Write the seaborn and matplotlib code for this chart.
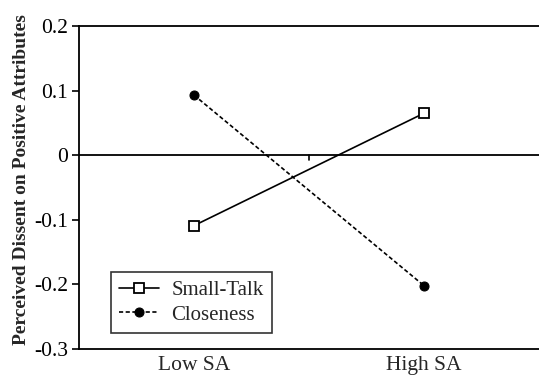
import matplotlib
matplotlib.use("Agg")
import matplotlib.pyplot as plt
import seaborn as sns
import pandas as pd

# Mean perceived dissent by social anxiety level
conditions = ["Low SA", "High SA"]
small_talk = [-0.109, 0.065]
closeness = [0.093, -0.202]
y_ticks = [0.2, 0.1, 0.0, -0.1, -0.2, -0.3]
y_tick_labels = ["0.2", "0.1", "0", "-0.1", "-0.2", "-0.3"]

sns.set_theme(style="white")
plt.rcParams["font.family"] = ["Liberation Serif", "DejaVu Serif"]

fig = plt.figure(figsize=(5.39, 3.77), dpi=100)
ax = fig.add_axes([0.1466, 0.0743, 0.8534, 0.8567])

x = list(range(len(conditions)))
df_st = pd.DataFrame({"x": x, "y": small_talk})
df_cl = pd.DataFrame({"x": x, "y": closeness})

sns.lineplot(data=df_st, x="x", y="y", ax=ax, color="black", linewidth=1.2,
             marker="s", markersize=6.5, markerfacecolor="white",
             markeredgecolor="black", markeredgewidth=1.3, label="Small-Talk")
sns.lineplot(data=df_cl, x="x", y="y", ax=ax, color="black", linewidth=1.2,
             linestyle=(0, (2.5, 1.5)), marker="o", markersize=6.5,
             markerfacecolor="black", markeredgecolor="black",
             label="Closeness")

# Category axis drawn through zero
ax.axhline(0, color="black", linewidth=1.3, zorder=1)
ax.plot([0.5, 0.5], [0, -0.007], color="black", linewidth=1.2,
        clip_on=False)

ax.set_xlim(-0.5, 1.5)
ax.set_ylim(-0.3, 0.2)
ax.set_xticks(x)
ax.set_xticklabels(conditions, fontsize=15.5)
ax.set_yticks(y_ticks)
ax.set_yticklabels(y_tick_labels, fontsize=15.5)
ax.tick_params(axis="x", length=0, pad=5)
ax.tick_params(axis="y", length=5, width=1.2, direction="out", pad=3,
               left=True, colors="black")
ax.set_xlabel("")
ax.set_ylabel("Perceived Dissent on Positive Attributes", fontsize=14,
              fontweight="bold")
ax.yaxis.set_label_coords(-0.107, 0.525)

for side in ["left", "top", "bottom"]:
    ax.spines[side].set_visible(True)
    ax.spines[side].set_color("black")
    ax.spines[side].set_linewidth(1.3)
ax.spines["right"].set_visible(False)

leg = ax.legend(loc="lower left", bbox_to_anchor=(0.0696, 0.0495),
                borderaxespad=0, fontsize=15, frameon=True, fancybox=False,
                handlelength=1.9, handletextpad=0.6, borderpad=0.4,
                labelspacing=0.25)
leg.get_frame().set_edgecolor("black")
leg.get_frame().set_linewidth(1.2)

fig.savefig("out.png", dpi=100)
